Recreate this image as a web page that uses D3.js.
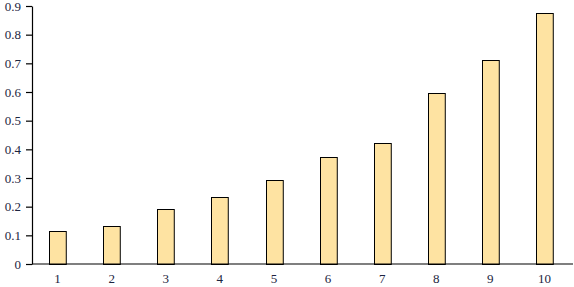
<!DOCTYPE html>
<html>
<head>
<meta charset="utf-8">
<script src="https://cdn.jsdelivr.net/npm/d3@7"></script>
<style>
  body { margin: 0; background: #fff; }
  text { font-family: "Liberation Serif", "DejaVu Serif", serif; }
</style>
</head>
<body>
<svg id="chart"></svg>
<script>
const categories = ['1', '2', '3', '4', '5', '6', '7', '8', '9', '10']
const values = [0.115, 0.131, 0.191, 0.233, 0.292, 0.372, 0.421, 0.595, 0.71, 0.874]
const yTicks = [0, 0.1, 0.2, 0.3, 0.4, 0.5, 0.6, 0.7, 0.8, 0.9]

const width = 574
const height = 287
const margin = { top: 6, right: 1, bottom: 23, left: 32 }

const svg = d3.select('#chart').attr('width', width).attr('height', height)

// SCALES
const x = d3
  .scaleBand()
  .domain(categories)
  .range([30.5, 571.5])
  .paddingInner(0.69)
  .paddingOuter(0.345)
const y = d3
  .scaleLinear()
  .domain([0, 0.9])
  .range([height - margin.bottom, margin.top])

// BARS
svg
  .append('g')
  .selectAll('rect')
  .data(values)
  .join('rect')
  .attr('x', (d, i) => Math.round(x(categories[i])) + 0.5)
  .attr('y', d => Math.round(y(d)) + 0.5)
  .attr('width', x.bandwidth())
  .attr('height', d => Math.round(y(0)) - Math.round(y(d)))
  .attr('fill', '#fee3a2')
  .attr('stroke', '#000')
  .attr('stroke-width', 1)

// Y AXIS
const yAxis = svg
  .append('g')
  .attr('transform', `translate(${margin.left},0)`)
  .call(
    d3
      .axisLeft(y)
      .tickValues(yTicks)
      .tickFormat(d => (d === 0 ? '0' : d3.format('.1f')(d)))
      .tickSize(6)
      .tickPadding(5)
      .tickSizeOuter(0)
  )
yAxis.selectAll('path, line').attr('stroke', '#000').attr('stroke-width', 1.2)
yAxis.selectAll('text').attr('fill', '#1c2440').style('font-size', '13px')

// X AXIS
const xAxis = svg
  .append('g')
  .attr('transform', `translate(0,${y(0)})`)
  .call(d3.axisBottom(x).tickSize(0).tickPadding(10).tickSizeOuter(0))
xAxis.select('path').attr('d', `M${margin.left},0H${width - 1}`).attr('stroke', '#000').attr('stroke-width', 1.2)
xAxis.selectAll('text').attr('fill', '#1c2440').style('font-size', '13px')
</script>
</body>
</html>
